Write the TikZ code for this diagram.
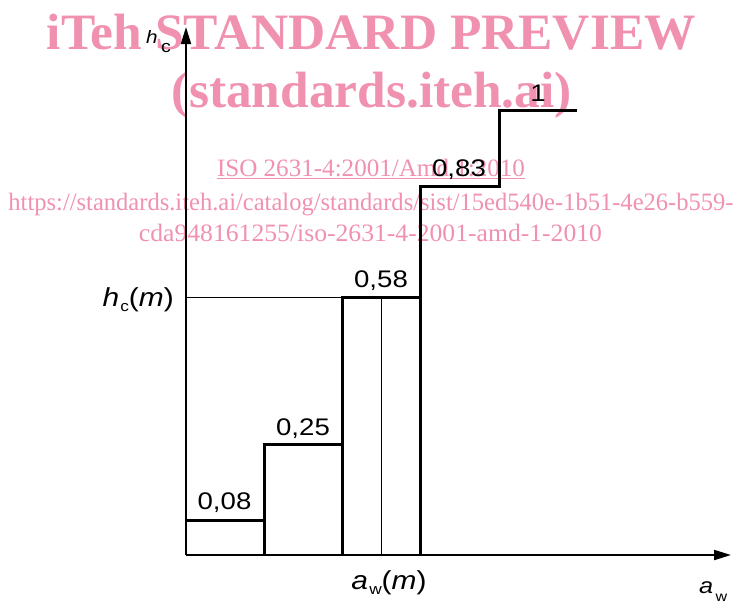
\documentclass[tikz,border=0pt]{standalone}
\usepackage{fontspec}
\setmainfont{Liberation Sans}
\newfontfamily\wmfont{Liberation Serif}
\usetikzlibrary{arrows.meta}
\definecolor{wmpink}{RGB}{240,145,175}
\newcommand{\sx}[1]{\scalebox{1.15}[1]{#1}}
\newcommand{\fs}[1]{\fontsize{#1}{#1}\selectfont}
\begin{document}
\begin{tikzpicture}[x=1pt,y=-1pt,
  axis/.style={line width=2pt,-{Triangle[length=17pt,width=10pt]}},
  stair/.style={line width=3pt},
  thinline/.style={line width=1.1pt},
  val/.style={inner sep=0pt,anchor=base,font=\fs{24}},
  lab/.style={inner sep=0pt,font=\fs{26}},
  wm/.style={text=wmpink,inner sep=0pt,anchor=base}]
\useasboundingbox (0,0) rectangle (736,603);
% watermark
\node[wm,font=\wmfont\bfseries\fs{51}] (wm1) at (371.5,49) {\resizebox{649pt}{\height}{iTeh STANDARD PREVIEW}};
\node[wm,font=\wmfont\bfseries\fs{51}] (wm2) at (372,107) {\resizebox{400pt}{\height}{(standards.iteh.ai)}};
\node[wm,font=\wmfont\fs{25}] (wm3) at (371,176.7) {\resizebox{308pt}{\height}{\underline{ISO 2631-4:2001/Amd 1:2010}}};
\node[wm,font=\wmfont\fs{25}] (wm4) at (371,210) {\resizebox{725pt}{\height}{https://standards.iteh.ai/catalog/standards/sist/15ed540e-1b51-4e26-b559-}};
\node[wm,font=\wmfont\fs{25}] (wm5) at (370.5,241) {\resizebox{463pt}{\height}{cda948161255/iso-2631-4-2001-amd-1-2010}};
% axes
\coordinate (O) at (186,555);
\coordinate (ytip) at (186,27);
\coordinate (xtip) at (731,555);
\draw[axis] (O) -- (ytip);
\draw[axis] (O) -- (xtip);
% staircase
\coordinate (a1) at (186,520);  \coordinate (b1) at (264,520);
\coordinate (a2) at (264,444);  \coordinate (b2) at (342,444);
\coordinate (a3) at (342,297.7);\coordinate (b3) at (420,297.7);
\coordinate (a4) at (420,186.7);\coordinate (b4) at (499,186.7);
\coordinate (a5) at (499,110.7);\coordinate (b5) at (577,110.7);
\draw[stair] (a1) -- (b1);
\draw[stair] (264,555) -- (a2) -- (b2);
\draw[stair] (342,555) -- (a3) -- (b3);
\draw[stair] (420,555) -- (a4) -- (b4) -- (a5) -- (b5);
% thin lines
\coordinate (hm) at (186,297.7);
\coordinate (am) at (381.7,555);
\coordinate (amt) at (381.7,297.7);
\draw[thinline] (hm) -- (a3);
\draw[thinline] (am) -- (amt);
% values
\node[val] (v1) at (224.5,509) {\sx{0,08}};
\node[val] (v2) at (303,435) {\sx{0,25}};
\node[val] (v3) at (381,287) {\sx{0,58}};
\node[val] (v4) at (459,176.7) {\sx{0,83}};
\node[val] (v5) at (538,101.7) {\sx{1}};
% axis labels
\node[inner sep=0pt,anchor=base west] (hc) at (146,43) {\sx{{\fs{18}\itshape h}\kern3pt\raisebox{-9pt}{\fs{17}c}}};
\node[lab,anchor=base east] (hcm) at (174,306) {\sx{\textit{h}\kern1pt\raisebox{-5pt}{\fs{15}c}(\textit{m})}};
\node[lab,anchor=base] (awm) at (389,589) {\sx{\textit{a}\kern1pt\raisebox{-5pt}{\fs{15}w}(\textit{m})}};
\node[inner sep=0pt,anchor=base west] (aw) at (699,593) {\sx{{\fs{22}\itshape a}\kern2pt\raisebox{-8pt}{\fs{14}w}}};
\end{tikzpicture}
\end{document}
